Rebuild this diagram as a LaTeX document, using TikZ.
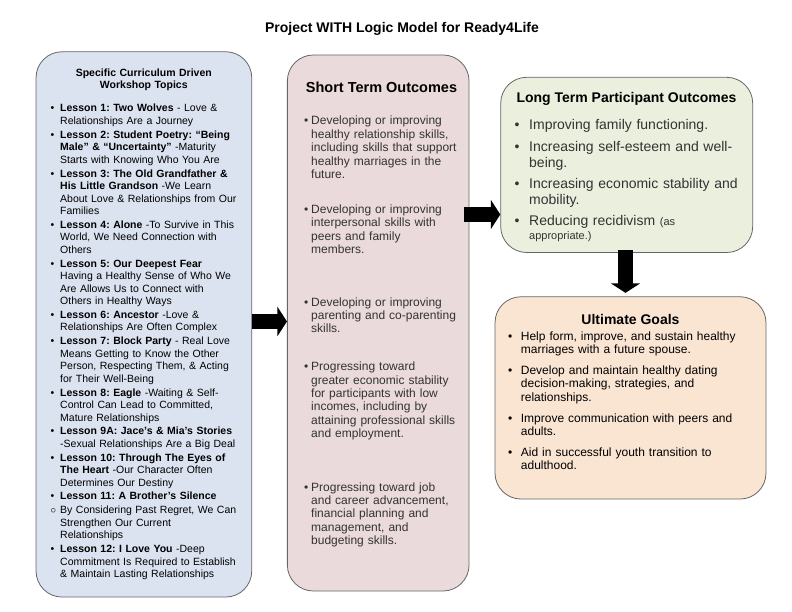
\documentclass[tikz,border=0pt]{standalone}
\usepackage{fontspec}
\setmainfont{Liberation Sans}
\usetikzlibrary{arrows.meta}
\definecolor{topicfill}{RGB}{220,227,240}
\definecolor{shortfill}{RGB}{234,218,219}
\definecolor{longfill}{RGB}{235,239,222}
\definecolor{goalfill}{RGB}{250,229,211}
\newlength{\itemhang}
\newcommand{\boxitem}[2][\textbullet]{\hangindent=\itemhang\hangafter=1\makebox[\itemhang][l]{#1}#2\par}
\frenchspacing
\begin{document}
\begin{tikzpicture}[x=1pt,y=-1pt,line join=round]
    \tikzset{box/.style n args={2}{draw=black!60,line width=0.8pt,rounded corners=26pt,minimum width=#1pt,minimum height=#2pt,inner sep=0pt}}
    \tikzset{txt/.style={anchor=base west,inner sep=0pt,align=left,text width=#1pt}}
    \tikzset{head/.style={anchor=base,inner sep=0pt,font=\bfseries\fontsize{14}{16}\selectfont}}
    \tikzset{blockarrow/.style={line width=15pt,-{Triangle[width=29pt,length=9.5pt]}}}
    \useasboundingbox (0,0) rectangle (792,612);
    \node[head] (title) at (402,32.3) {Project WITH Logic Model for Ready4Life};
    % boxes
    \node[box={215.7}{545.3},fill=topicfill] (topics) at (143.9,324.4) {};
    \node[box={181.7}{536},fill=shortfill] (short) at (378.2,323) {};
    \node[box={252}{175.2},fill=longfill] (long) at (626.7,164.9) {};
    \node[box={271}{202.3},fill=goalfill] (goals) at (630.5,397.9) {};
    % workshop topics
    \node[anchor=base,inner sep=0pt,text width=200pt,align=center,font=\bfseries\fontsize{10.5}{12}\selectfont] (topicshead) at (143.8,76.5) {Specific Curriculum Driven\\Workshop Topics};
    \node[txt=200,font=\fontsize{10.5}{12.5}\selectfont] (topicslist) at (50.5,112) {%
      \setlength{\itemhang}{9.5pt}\setlength{\parskip}{1.3pt}%
      \boxitem{\textbf{Lesson 1: Two Wolves} - Love \&\newline Relationships Are a Journey}
      \boxitem{\textbf{Lesson 2: Student Poetry: “Being\newline Male” \& “Uncertainty”} -Maturity\newline Starts with Knowing Who You Are}
      \boxitem{\textbf{Lesson 3: The Old Grandfather \&\newline His Little Grandson} -We Learn\newline About Love \& Relationships from Our\newline Families}
      \boxitem{\textbf{Lesson 4: Alone} -To Survive in This\newline World, We Need Connection with\newline Others}
      \boxitem{\textbf{Lesson 5: Our Deepest Fear}\newline Having a Healthy Sense of Who We\newline Are Allows Us to Connect with\newline Others in Healthy Ways}
      \boxitem{\textbf{Lesson 6: Ancestor} -Love \&\newline Relationships Are Often Complex}
      \boxitem{\textbf{Lesson 7: Block Party} - Real Love\newline Means Getting to Know the Other\newline Person, Respecting Them, \& Acting\newline for Their Well-Being}
      \boxitem{\textbf{Lesson 8: Eagle} -Waiting \& Self-\newline Control Can Lead to Committed,\newline Mature Relationships}
      \boxitem{\textbf{Lesson 9A: Jace’s \& Mia’s Stories}\newline -Sexual Relationships Are a Big Deal}
      \boxitem{\textbf{Lesson 10: Through The Eyes of\newline The Heart} -Our Character Often\newline Determines Our Destiny}
      \boxitem{\textbf{Lesson 11: A Brother’s Silence}}
      \boxitem[$\circ$]{By Considering Past Regret, We Can\newline Strengthen Our Current\newline Relationships}
      \boxitem{\textbf{Lesson 12: I Love You} -Deep\newline Commitment Is Required to Establish\newline \& Maintain Lasting Relationships}};
    % short term
    \node[anchor=base,inner sep=0pt,font=\bfseries\fontsize{14.5}{16}\selectfont] (shorthead) at (381.5,92.3) {Short Term Outcomes};
    \node[txt=166,font=\fontsize{12}{13.4}\selectfont,text=black!80] (shortlist) at (304,125) {%
      \setlength{\itemhang}{7pt}\setlength{\parskip}{0pt}%
      \boxitem{Developing or improving\newline healthy relationship skills,\newline including skills that support\newline healthy marriages in the\newline future.}
      \vspace{21.6pt}
      \boxitem{Developing or improving\newline interpersonal skills with\newline peers and family\newline members.}
      \vspace{39pt}
      \boxitem{Developing or improving\newline parenting and co-parenting\newline skills.}
      \vspace{24.3pt}
      \boxitem{Progressing toward\newline greater economic stability\newline for participants with low\newline incomes, including by\newline attaining professional skills\newline and employment.}
      \vspace{40pt}
      \boxitem{Progressing toward job\newline and career advancement,\newline financial planning and\newline management, and\newline budgeting skills.}};
    % long term
    \node[head] (longhead) at (626.5,102.3) {Long Term Participant Outcomes};
    \node[txt=237,font=\fontsize{14}{16.3}\selectfont,text=black!80] (longlist) at (514.5,130) {%
      \setlength{\itemhang}{14.5pt}\setlength{\parskip}{4.8pt}%
      \boxitem{Improving family functioning.}
      \boxitem{Increasing self-esteem and well-\newline being.}
      \boxitem{Increasing economic stability and\newline mobility.}
      \boxitem{Reducing recidivism {\fontsize{11}{13}\selectfont(as\vspace{-3pt}\newline appropriate.)}}};
    % ultimate goals
    \node[head] (goalshead) at (630.5,324) {Ultimate Goals};
    \node[txt=257,font=\fontsize{12}{13.35}\selectfont] (goalslist) at (507.9,340) {%
      \setlength{\itemhang}{12.8pt}\setlength{\parskip}{7.7pt}%
      \boxitem{Help form, improve, and sustain healthy\newline marriages with a future spouse.}
      \boxitem{Develop and maintain healthy dating\newline decision-making, strategies, and\newline relationships.}
      \boxitem{Improve communication with peers and\newline adults.}
      \boxitem{Aid in successful youth transition to\newline adulthood.}};
    % arrows
    \coordinate (arrowa) at (0,321.5);
    \coordinate (arrowb) at (0,214.5);
    \coordinate (arrowc) at (625.5,0);
    \draw[blockarrow] (topics.east |- arrowa) -- (short.west |- arrowa);
    \draw[blockarrow,shorten <=-5pt] (short.east |- arrowb) -- (long.west |- arrowb);
    \draw[blockarrow,shorten <=-2.5pt,shorten >=3.5pt] (arrowc |- long.south) -- (arrowc |- goals.north);
\end{tikzpicture}
\end{document}
